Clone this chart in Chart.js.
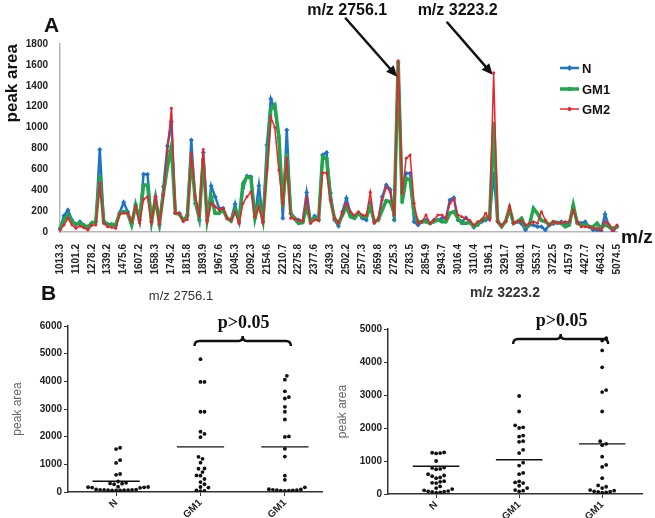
<!DOCTYPE html>
<html>
<head>
<meta charset="utf-8">
<script src="https://cdn.jsdelivr.net/npm/chart.js@4.4.1/dist/chart.umd.min.js"></script>
<style>
  body { margin: 0; background: #fff; }
  #wrap { position: relative; width: 655px; height: 518px; }
  canvas { position: absolute; }
</style>
</head>
<body>
<div id="wrap">
  <canvas id="peakChart" width="655" height="282" style="left:0;top:0"></canvas>
  <canvas id="swarmLeft" width="330" height="236" style="left:0;top:282px"></canvas>
  <canvas id="swarmRight" width="325" height="236" style="left:330px;top:282px"></canvas>
</div>
<script>
// m/z peaks (every 4th one is labelled on the axis)
const mzLabels = [
  "1013.3","1029.4","1047.6","1075.2","1101.2","1136.5","1197.8","1236.1",
  "1278.2","1293.6","1307.4","1322.9","1339.2","1367.8","1409.3","1442.7",
  "1475.6","1514.1","1549.8","1578.4","1607.2","1619.6","1632.5","1645.1",
  "1658.3","1688.7","1715.4","1731.0","1745.2","1760.8","1778.3","1797.5",
  "1815.8","1833.1","1852.6","1874.2","1893.9","1912.4","1930.7","1949.0",
  "1967.6","1986.3","2005.9","2025.1","2045.3","2056.8","2068.2","2080.7",
  "2092.3","2107.5","2123.9","2139.4","2154.6","2169.5","2183.2","2196.8",
  "2210.7","2226.3","2243.1","2259.4","2275.8","2301.6","2327.9","2352.4",
  "2377.6","2393.2","2408.7","2424.1","2439.3","2455.0","2470.6","2486.4",
  "2502.2","2520.9","2539.5","2558.6","2577.3","2598.0","2618.4","2639.1",
  "2659.8","2676.2","2692.5","2708.9","2725.3","2756.1","2764.0","2772.8",
  "2783.5","2801.3","2819.2","2837.0","2854.9","2877.1","2899.4","2921.5",
  "2943.7","2961.9","2980.1","2998.2","3016.4","3039.9","3063.4","3086.9",
  "3110.4","3131.8","3153.2","3174.6","3196.1","3223.2","3244.5","3268.1",
  "3291.7","3320.8","3349.9","3379.0","3408.1","3444.5","3480.9","3517.3",
  "3553.7","3595.9","3638.1","3680.3","3722.5","3831.4","3940.2","4049.1",
  "4157.9","4225.3","4292.8","4360.2","4427.7","4481.6","4535.4","4589.3",
  "4643.2","4750.9","4858.7","4966.6","5074.5"
];

const peakN = [
  26,156,210,115,67,99,67,35,89,99,
  791,105,77,73,61,185,284,195,83,258,
  115,552,552,99,338,67,434,823,1056,185,
  179,115,163,881,275,115,760,115,440,338,
  227,227,131,115,268,99,418,536,530,147,
  444,99,833,1273,1180,900,131,977,179,131,
  115,100,377,99,153,115,737,760,370,115,
  57,195,322,179,140,179,131,115,275,99,
  115,338,450,408,115,1620,386,562,562,99,
  67,99,115,83,115,115,131,131,306,329,
  115,99,137,99,45,83,99,115,131,560,
  105,60,100,200,83,100,80,20,67,67,
  51,51,19,67,80,89,99,67,89,243,
  99,83,99,51,19,19,13,169,51,5,51
];

const peakGM1 = [
  35,115,163,99,77,83,57,51,83,99,
  530,89,67,73,67,179,195,179,67,258,
  115,450,450,99,322,83,370,620,817,180,
  170,110,150,721,306,147,700,120,338,179,
  179,211,131,105,211,110,466,530,514,131,
  275,110,620,1180,1216,920,250,737,179,124,
  83,90,243,99,131,115,721,705,306,131,
  83,163,243,147,131,179,147,147,243,99,
  115,211,300,290,179,1630,284,514,498,179,
  99,99,99,83,99,115,99,99,179,195,
  131,83,83,90,57,67,115,131,147,1040,
  99,51,100,230,83,100,131,50,70,227,
  179,110,99,67,99,89,83,51,67,258,
  83,67,67,51,51,83,35,67,51,35,51
];

const peakGM2 = [
  19,67,131,67,35,57,41,19,64,67,
  466,83,51,45,35,172,179,179,99,243,
  89,313,338,89,338,83,354,770,1184,179,
  179,100,120,753,338,163,790,100,275,243,
  211,227,131,115,195,83,275,338,386,147,
  243,89,594,1100,1000,594,275,705,131,128,
  110,105,322,83,115,115,568,568,306,131,
  83,179,275,195,160,195,163,160,380,83,
  131,306,434,386,163,1640,370,705,737,275,
  83,99,163,83,115,163,163,131,275,313,
  163,147,131,110,67,99,115,179,115,1525,
  99,60,100,250,83,100,110,67,83,99,
  83,195,115,67,99,89,89,99,99,211,
  95,51,51,51,35,35,19,99,73,5,67
];

// panel B: individual peak areas per group
const groupNames = ["N", "GM1", "GM1"];

const leftN = [1600,1550,1150,1050,650,620,380,330,310,300,280,190,180,175,170,160,150,90,85,80,80,75,70,70,65,60,60,55];
const leftGM1 = [4800,3980,3980,2900,2900,2180,2100,1980,1270,1200,1060,850,840,720,600,590,470,360,280,180,160,60,40,30];
const leftGM1b = [4200,4060,3640,3430,3380,3080,2900,2620,2010,1990,1560,1280,590,440,170,100,90,80,70,70,60,50,50,40];
const leftMeans = [390, 1630, 1630];

const rightN = [1260,1250,1240,1230,1000,800,790,760,750,600,560,540,500,480,390,370,340,330,230,180,150,110,90,80,70,60,50,40];
const rightGM1 = [2970,2500,2080,2020,2000,1770,1740,1600,1580,1340,1240,950,860,640,600,380,350,330,250,180,120,100,80];
const rightGM1b = [4720,4650,4350,3840,3150,3090,2500,1600,1520,1480,1130,880,820,480,260,220,180,120,100,80,70,60,50,40];
const rightMeans = [840, 1040, 1520];

const font = "'Liberation Sans', Arial, sans-serif";
const blue = "#1f74c6";
const green = "#22a64c";
const red = "#e8232b";

// ---------- panel A ----------
const callouts = [
  { index: 85, text: "m/z 2756.1", dx: 52, dy: 59, drop: 16, textDx: 2 },
  { index: 109, text: "m/z 3223.2", dx: 46, dy: 53, drop: 2, textDx: 11 }
];

function drawMarker(ctx, style, cx, cy, r, color) {
  ctx.fillStyle = color;
  ctx.beginPath();
  if (style === "rectRot") {
    ctx.moveTo(cx, cy - r); ctx.lineTo(cx + r, cy); ctx.lineTo(cx, cy + r); ctx.lineTo(cx - r, cy);
  } else {
    ctx.arc(cx, cy, r, 0, Math.PI * 2);
  }
  ctx.closePath();
  ctx.fill();
}

const peakExtras = {
  id: "peakExtras",
  afterDraw(chart) {
    const { ctx, scales: { x, y } } = chart;
    ctx.save();
    ctx.fillStyle = "#111";
    ctx.font = "bold 21px " + font;
    ctx.textAlign = "left";
    ctx.fillText("A", 44, 32);
    ctx.font = "bold 19px " + font;
    ctx.fillText("m/z", 621, 243);

    // arrows pointing at the two peaks
    callouts.forEach(c => {
      const top = Math.max(peakN[c.index], peakGM1[c.index], peakGM2[c.index]);
      const tipX = x.getPixelForValue(c.index) - 1;
      const tipY = y.getPixelForValue(top) + c.drop;
      const sx = tipX - c.dx, sy = tipY - c.dy;
      const ang = Math.atan2(c.dy, c.dx);
      ctx.strokeStyle = "#111";
      ctx.lineWidth = 2.5;
      ctx.beginPath();
      ctx.moveTo(sx, sy);
      ctx.lineTo(tipX - 8 * Math.cos(ang), tipY - 8 * Math.sin(ang));
      ctx.stroke();
      ctx.fillStyle = "#111";
      ctx.beginPath();
      ctx.moveTo(tipX, tipY);
      ctx.lineTo(tipX - 11 * Math.cos(ang) + 5 * Math.sin(ang), tipY - 11 * Math.sin(ang) - 5 * Math.cos(ang));
      ctx.lineTo(tipX - 11 * Math.cos(ang) - 5 * Math.sin(ang), tipY - 11 * Math.sin(ang) + 5 * Math.cos(ang));
      ctx.closePath();
      ctx.fill();
      ctx.font = "bold 16px " + font;
      ctx.textAlign = "center";
      ctx.fillText(c.text, sx + c.textDx, 15);
    });

    // legend inside the plot
    const rows = [68, 89, 109];
    chart.data.datasets.forEach((ds, i) => {
      const ly = rows[i];
      ctx.strokeStyle = ds.borderColor;
      ctx.lineWidth = ds.borderWidth;
      ctx.beginPath();
      ctx.moveTo(560, ly);
      ctx.lineTo(579, ly);
      ctx.stroke();
      drawMarker(ctx, ds.pointStyle, 569.5, ly, ds.pointRadius + 0.5, ds.borderColor);
      ctx.fillStyle = "#111";
      ctx.font = "bold 13px " + font;
      ctx.textAlign = "left";
      ctx.textBaseline = "middle";
      ctx.fillText(ds.label, 582, ly + 1);
      ctx.textBaseline = "alphabetic";
    });
    ctx.restore();
  }
};

new Chart(document.getElementById("peakChart"), {
  type: "line",
  data: {
    labels: mzLabels,
    datasets: [
      { label: "N", data: peakN, borderColor: blue, backgroundColor: blue, borderWidth: 2.5,
        pointStyle: "rectRot", pointRadius: 2.5, pointBorderWidth: 0, tension: 0, order: 2 },
      { label: "GM1", data: peakGM1, borderColor: green, backgroundColor: green, borderWidth: 3.5,
        pointStyle: "circle", pointRadius: 1.8, pointBorderWidth: 0, tension: 0, order: 1 },
      { label: "GM2", data: peakGM2, borderColor: red, backgroundColor: red, borderWidth: 1.5,
        pointStyle: "circle", pointRadius: 1.5, pointBorderWidth: 0, tension: 0, order: 0 }
    ]
  },
  options: {
    responsive: false,
    animation: false,
    layout: { padding: { left: 0, right: 38, top: 44, bottom: 0 } },
    plugins: { legend: { display: false }, tooltip: { enabled: false } },
    scales: {
      x: {
        grid: { display: false, drawTicks: false },
        border: { display: true, color: "#b5b5b5", width: 1.5 },
        ticks: {
          autoSkip: false, minRotation: 90, maxRotation: 90, padding: 12,
          color: "#222", font: { family: font, size: 10, weight: "bold" },
          callback: (v, i) => (i % 4 === 0 ? mzLabels[i] : "")
        },
        afterFit: s => { s.height = 50; }
      },
      y: {
        min: 0, max: 1800,
        grid: { display: false, drawTicks: false },
        border: { display: true, color: "#b5b5b5", width: 1.5 },
        ticks: { stepSize: 200, padding: 12, color: "#222", font: { family: font, size: 10, weight: "bold" },
                 callback: v => String(v) },
        title: { display: true, text: "peak area", align: "end", color: "#111",
                 font: { family: font, size: 17, weight: "bold" }, padding: { top: 2, bottom: 0 } },
        afterFit: s => { s.width = 60; }
      }
    }
  },
  plugins: [peakExtras]
});

// ---------- panel B ----------
// simple beeswarm: spread dots sideways where they would overlap
function swarm(values, center, yUnitsPerPx, xUnitsPerPx) {
  const gap = 4.0;
  const placed = [];
  values.slice().sort((a, b) => a - b).forEach(v => {
    const py = v / yUnitsPerPx;
    let px = 0;
    for (let step = 0; step < 80; step++) {
      px = Math.ceil(step / 2) * (gap / 2) * (step % 2 ? 1 : -1);
      if (!placed.some(p => Math.hypot(p.px - px, p.py - py) < gap)) break;
    }
    placed.push({ px, py, v });
  });
  return placed.map(p => ({ x: center + p.px * xUnitsPerPx, y: p.v }));
}

function swarmChart(id, cfg) {
  const yPerPx = cfg.yMax / cfg.plotH;
  const xPerPx = (cfg.xMax - cfg.xMin) / cfg.plotW;
  const datasets = [];
  cfg.groups.forEach((vals, k) => {
    datasets.push({ data: swarm(vals, k + 1, yPerPx, xPerPx), pointRadius: 1.9,
                    pointBackgroundColor: "#111", pointBorderWidth: 0, showLine: false });
    datasets.push({ data: [{ x: k + 1 - 0.28, y: cfg.means[k] }, { x: k + 1 + 0.28, y: cfg.means[k] }],
                    showLine: true, borderColor: "#111", borderWidth: 1.4, pointRadius: 0 });
  });

  const extras = {
    id: "swarmExtras",
    afterDraw(chart) {
      const { ctx, chartArea, scales: { x } } = chart;
      ctx.save();
      ctx.fillStyle = "#111";
      if (cfg.letter) {
        ctx.font = "bold 21px " + font;
        ctx.textAlign = "left";
        ctx.fillText(cfg.letter, 41, 18);
      }
      ctx.fillStyle = "#333";
      ctx.font = cfg.titleFont;
      ctx.textAlign = "center";
      ctx.textBaseline = "middle";
      ctx.fillText(cfg.title, cfg.titleX, cfg.titleY);
      ctx.textBaseline = "alphabetic";

      // significance bracket between the two GM groups
      const x0 = x.getPixelForValue(2) - 6, x1 = x.getPixelForValue(3) + 6;
      const xm = (x0 + x1) / 2;
      const yb = chartArea.top + cfg.bracketDy;
      ctx.strokeStyle = "#111";
      ctx.lineWidth = 2.4;
      ctx.beginPath();
      ctx.moveTo(x0, yb + 5);
      ctx.quadraticCurveTo(x0, yb, x0 + 5, yb);
      ctx.lineTo(xm - 4, yb);
      ctx.quadraticCurveTo(xm, yb, xm, yb - 5);
      ctx.quadraticCurveTo(xm, yb, xm + 4, yb);
      ctx.lineTo(x1 - 5, yb);
      ctx.quadraticCurveTo(x1, yb, x1, yb + 5);
      ctx.stroke();
      ctx.fillStyle = "#111";
      ctx.font = "bold 18px 'Liberation Serif', 'Times New Roman', serif";
      ctx.fillText("p>0.05", xm + 1, yb - 13);
      ctx.restore();
    }
  };

  new Chart(document.getElementById(id), {
    type: "scatter",
    data: { datasets },
    options: {
      responsive: false,
      animation: false,
      layout: { padding: { left: 0, right: cfg.padRight, top: cfg.padTop, bottom: 0 } },
      plugins: { legend: { display: false }, tooltip: { enabled: false } },
      scales: {
        x: {
          type: "linear", min: cfg.xMin, max: cfg.xMax,
          afterBuildTicks: s => { s.ticks = groupNames.map((n, i) => ({ value: i + 1 })); },
          ticks: {
            autoSkip: false, minRotation: 45, maxRotation: 45, padding: 1,
            color: "#222", font: { family: font, size: 10, weight: "bold" },
            callback: v => groupNames[Math.round(v) - 1] || ""
          },
          grid: { drawOnChartArea: false, tickLength: 4, color: "#333" },
          border: { color: "#333", width: 1.5 },
          afterFit: s => { s.height = cfg.xAxisH; }
        },
        y: {
          min: 0, max: cfg.yMax,
          ticks: { stepSize: 1000, padding: 2, color: "#222", font: { family: font, size: 10, weight: "bold" },
                   callback: v => String(v) },
          grid: { drawOnChartArea: false, tickLength: 4, color: "#333" },
          border: { color: "#333", width: 1.5 },
          title: { display: true, text: "peak area", color: "#666",
                   font: { family: font, size: 12 }, padding: { top: cfg.titlePad, bottom: 0 } },
          afterFit: s => { s.width = cfg.yAxisW; }
        }
      }
    },
    plugins: [extras]
  });
}

swarmChart("swarmLeft", {
  groups: [leftN, leftGM1, leftGM1b], means: leftMeans,
  yMax: 6000, xMin: 0.43, xMax: 3.44, plotW: 254, plotH: 166,
  padTop: 44, padRight: 8, xAxisH: 26, yAxisW: 68, titlePad: 10,
  letter: "B", title: "m/z 2756.1", titleFont: "13px " + font, titleX: 181, titleY: 14,
  bracketDy: 15
});

swarmChart("swarmRight", {
  groups: [rightN, rightGM1, rightGM1b], means: rightMeans,
  yMax: 5000, xMin: 0.42, xMax: 3.48, plotW: 254, plotH: 165,
  padTop: 47, padRight: 13, xAxisH: 24, yAxisW: 58, titlePad: 5,
  letter: "", title: "m/z 3223.2", titleFont: "bold 14px " + font, titleX: 175, titleY: 11,
  bracketDy: 10
});
</script>
</body>
</html>
